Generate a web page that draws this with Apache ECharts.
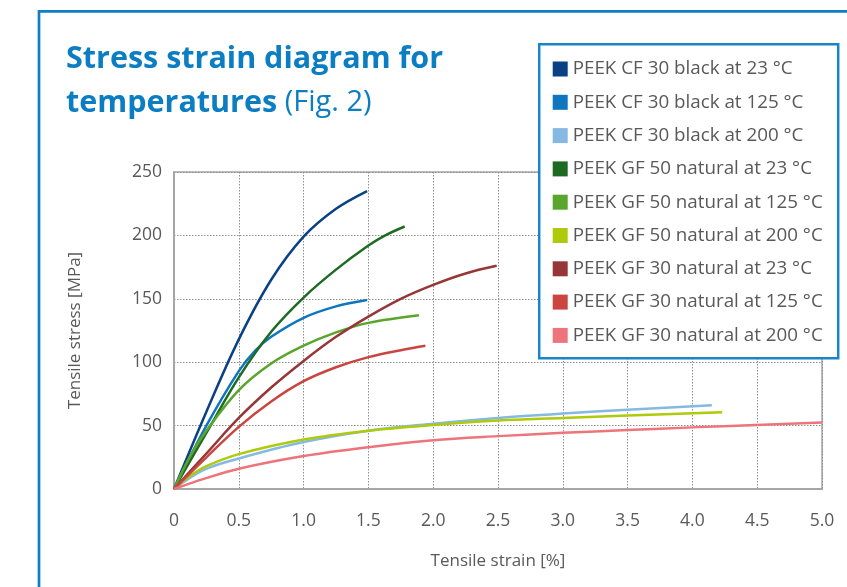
<!DOCTYPE html>
<html>
<head>
<meta charset="utf-8">
<script src="https://cdn.jsdelivr.net/npm/echarts@6/dist/echarts.min.js"></script>
<style>
  html, body { margin: 0; padding: 0; background: #fff; }
  #chart { width: 847px; height: 587px; }
</style>
</head>
<body>
<div id="chart"></div>
<script>
// Tensile curves: [strain %, stress MPa]
const cf30_23  = [[0,0],[0.25,61],[0.5,118],[0.75,165],[1.0,199],[1.25,221],[1.49,235]];
const cf30_125 = [[0,0],[0.25,50],[0.5,93],[0.625,109],[0.75,120],[1.0,135],[1.25,144],[1.49,149]];
const cf30_200 = [[0,0],[0.23,15],[0.5,24],[1.0,37],[1.5,46],[2.0,51.5],[2.5,56],[3.0,59.5],[3.5,62.5],[4.15,66]];
const gf50_23  = [[0,0],[0.26,46],[0.5,88],[0.75,124],[1.0,151],[1.25,173],[1.5,192],[1.63,200],[1.78,207]];
const gf50_125 = [[0,0],[0.125,26],[0.25,46],[0.5,78],[0.75,99],[1.0,113],[1.25,123.5],[1.5,131],[1.89,137]];
const gf50_200 = [[0,0],[0.12,10],[0.25,18],[0.5,27.5],[1.0,39],[1.5,46],[2.0,50.5],[2.5,54],[3.0,56],[3.5,58],[4.23,60.5]];
const gf30_23  = [[0,0],[0.25,28],[0.5,56],[0.75,80],[1.0,101],[1.25,120],[1.5,136],[1.75,150],[2.0,161],[2.25,170],[2.49,176]];
const gf30_125 = [[0,0],[0.25,25],[0.5,49],[0.75,69],[1.0,85],[1.25,96],[1.5,104],[1.75,109.5],[1.94,113]];
const gf30_200 = [[0,0],[0.23,8],[0.5,16],[1.0,26],[1.5,33],[2.0,38.5],[2.5,41.7],[3.0,44.3],[3.5,46.5],[4.0,48.6],[5.0,52.5]];

const seriesNames = [
  'PEEK CF 30 black at 23 °C',
  'PEEK CF 30 black at 125 °C',
  'PEEK CF 30 black at 200 °C',
  'PEEK GF 50 natural at 23 °C',
  'PEEK GF 50 natural at 125 °C',
  'PEEK GF 50 natural at 200 °C',
  'PEEK GF 30 natural at 23 °C',
  'PEEK GF 30 natural at 125 °C',
  'PEEK GF 30 natural at 200 °C'
];
const seriesData = [cf30_23, cf30_125, cf30_200, gf50_23, gf50_125, gf50_200, gf30_23, gf30_125, gf30_200];
const seriesColors = ['#0a4185', '#0e76bf', '#85b9e2', '#1e6a22', '#5aa52c', '#afca0b', '#963636', '#ca4540', '#ee747b'];

const xMin = 0, xMax = 5, xStep = 0.5;
const yMin = 0, yMax = 250, yStep = 50;

const titleLine1 = 'Stress strain diagram for';
const titleLine2 = 'temperatures';
const titleSuffix = ' (Fig. 2)';
const xName = 'Tensile strain [%]';
const yName = 'Tensile stress [MPa]';

const blue = '#0b7dc3';
const textGray = '#595959';
const font = '"Open Sans", "Noto Sans", sans-serif';

const chart = echarts.init(document.getElementById('chart'), null, { renderer: 'canvas' });

chart.setOption({
  animation: false,
  backgroundColor: '#fff',
  title: {
    left: 66,
    top: 37,
    padding: 0,
    text: '{b|' + titleLine1 + '}\n{b|' + titleLine2 + '}{n|' + titleSuffix + '}',
    textStyle: {
      rich: {
        b: { fontFamily: font, fontWeight: 'bold', fontSize: 30.5, color: blue, lineHeight: 44 },
        n: { fontFamily: font, fontWeight: 'normal', fontSize: 29, color: blue, lineHeight: 44 }
      }
    }
  },
  graphic: [
    {
      type: 'rect', z: 0, silent: true,
      shape: { x: 39, y: 11.3, width: 900, height: 700 },
      style: { fill: 'none', stroke: '#0d7fc6', lineWidth: 2.7 }
    },
    {
      type: 'rect', z: 3, silent: true,
      shape: { x: 539.2, y: 44.2, width: 299, height: 314.1 },
      style: { fill: '#fff', stroke: '#1a84c9', lineWidth: 2.5 }
    }
  ],
  legend: {
    orient: 'vertical',
    left: 552.7,
    top: 59.5,
    padding: 0,
    itemWidth: 15,
    itemHeight: 15,
    itemGap: 14.3,
    icon: 'rect',
    z: 5,
    data: seriesNames,
    textStyle: { fontFamily: font, fontSize: 18.8, color: textGray, lineHeight: 18 }
  },
  grid: {
    left: 174, right: 25, top: 172, bottom: 98,
    show: true, borderColor: '#a6a6a6', borderWidth: 1.5, backgroundColor: 'transparent'
  },
  xAxis: {
    type: 'value',
    min: xMin, max: xMax, interval: xStep,
    name: xName,
    nameLocation: 'middle',
    nameGap: 64,
    nameTextStyle: { fontFamily: font, fontSize: 17, color: textGray },
    axisLine: { show: true, lineStyle: { color: '#a6a6a6', width: 2 } },
    axisTick: { show: false },
    axisLabel: {
      margin: 23,
      fontFamily: font, fontSize: 17.5, color: textGray,
      formatter: v => (v === 0 ? '0' : v.toFixed(1))
    },
    splitLine: { show: true, lineStyle: { color: '#8f8f8f', width: 1, type: [1.5, 1.5] } }
  },
  yAxis: {
    type: 'value',
    min: yMin, max: yMax, interval: yStep,
    name: yName,
    nameLocation: 'middle',
    nameGap: 90,
    nameTextStyle: { fontFamily: font, fontSize: 17, color: textGray },
    axisLine: { show: true, lineStyle: { color: '#a6a6a6', width: 2 } },
    axisTick: { show: false },
    axisLabel: { margin: 12, fontFamily: font, fontSize: 17.5, color: textGray },
    splitLine: { show: true, lineStyle: { color: '#8f8f8f', width: 1, type: [1.5, 1.5] } }
  },
  series: seriesNames.map((name, i) => ({
    name: name,
    type: 'line',
    data: seriesData[i],
    smooth: 0.35,
    showSymbol: false,
    symbol: 'none',
    clip: false,
    color: seriesColors[i],
    lineStyle: { color: seriesColors[i], width: 2.5 },
    z: 2
  }))
});
</script>
</body>
</html>
